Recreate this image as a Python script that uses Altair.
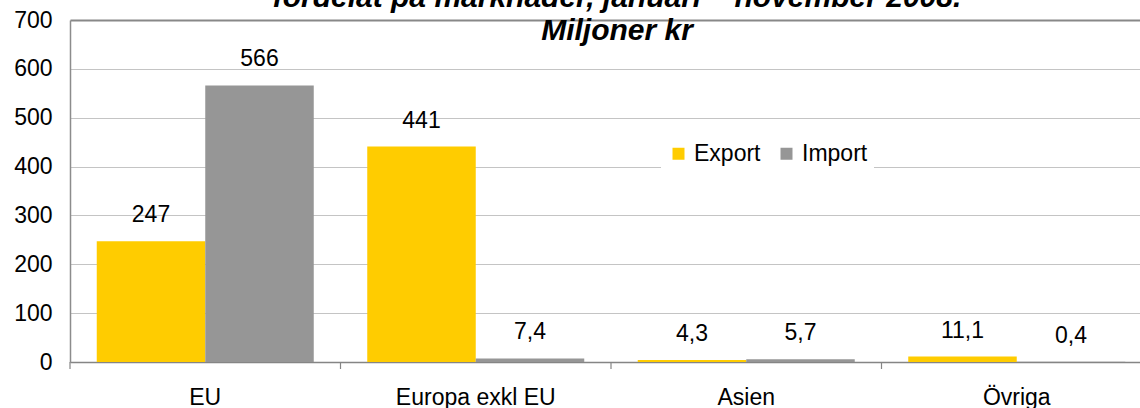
import altair as alt
import pandas as pd

# ---- data ----
categories = ["EU", "Europa exkl EU", "Asien", "Övriga"]
export_vals = [247, 441, 4.3, 11.1]
import_vals = [566, 7.4, 5.7, 0.4]
series = ["Export", "Import"]
colors = ["#FFCC00", "#969696"]
y_ticks = [0, 100, 200, 300, 400, 500, 600, 700]
title_lines = ["fördelat på marknader, januari – november 2008.", "Miljoner kr"]

FONT = "Liberation Sans"

rows = []
for c, e, i in zip(categories, export_vals, import_vals):
    rows.append({"cat": c, "serie": "Export", "val": e, "lab": f"{e:g}".replace(".", ",")})
    rows.append({"cat": c, "serie": "Import", "val": i, "lab": f"{i:g}".replace(".", ",")})
df = pd.DataFrame(rows)
cat_df = pd.DataFrame({"cat": categories})

W, H = 1070, 342
xscale = alt.Scale(domain=categories, paddingInner=0, paddingOuter=0, range=[0, 1082])
offscale = alt.Scale(domain=series, paddingInner=0, paddingOuter=0.2465)
yscale = alt.Scale(domain=[0, 700], nice=False)

x_enc = alt.X("cat:N", scale=xscale, sort=categories,
              axis=alt.Axis(title=None, ticks=False, tickSize=0, labelAngle=0,
                            labelFont=FONT, labelFontSize=23, labelColor="#000000",
                            labelBaseline="alphabetic", labelPadding=42,
                            domainColor="#858585", domainWidth=1.5, grid=False))
y_enc = alt.Y("val:Q", scale=yscale,
              axis=alt.Axis(title=None, values=y_ticks, ticks=False, tickSize=0,
                            labelFont=FONT, labelFontSize=23, labelColor="#000000",
                            labelPadding=18, domainColor="#8C8C8C", domainWidth=1.5,
                            grid=True,
                            gridColor={"expr": "datum.value == 700 ? '#888888' : '#C4C4C4'"},
                            gridWidth={"expr": "datum.value == 700 ? 2 : 1"}))

bars = alt.Chart(df).mark_bar().encode(
    x=x_enc,
    xOffset=alt.XOffset("serie:N", scale=offscale, sort=series),
    y=y_enc,
    color=alt.Color("serie:N", scale=alt.Scale(domain=series, range=colors),
                    legend=alt.Legend(title=None, orient="none", legendX=591, legendY=116,
                                      direction="horizontal", fillColor="#FFFFFF", padding=6,
                                      symbolType="square", symbolSize=144, symbolStrokeWidth=0,
                                      labelFont=FONT, labelFontSize=23, labelColor="#000000",
                                      labelOffset=4, columnPadding=14)),
)

labels = alt.Chart(df).mark_text(font=FONT, fontSize=23, color="#000000",
                                 baseline="alphabetic", dy=-19).encode(
    x=alt.X("cat:N", scale=xscale, sort=categories),
    xOffset=alt.XOffset("serie:N", scale=offscale, sort=series),
    y=alt.Y("val:Q", scale=yscale),
    text="lab:N",
)

ticks = alt.Chart(cat_df).mark_rule(color="#858585", strokeWidth=1.2).encode(
    x=alt.X("cat:N", scale=xscale, sort=categories, bandPosition=0),
    y=alt.value(H),
    y2=alt.value(H + 7),
)

t1 = alt.Chart(pd.DataFrame({"t": [title_lines[0]]})).mark_text(
    font=FONT, fontSize=30, fontWeight="bold", fontStyle="italic", color="#000000",
    baseline="alphabetic", align="center").encode(
    x=alt.value(547), y=alt.value(-13), text="t:N")
t2 = alt.Chart(pd.DataFrame({"t": [title_lines[1]]})).mark_text(
    font=FONT, fontSize=30, fontWeight="bold", fontStyle="italic", color="#000000",
    baseline="alphabetic", align="center").encode(
    x=alt.value(547), y=alt.value(20), text="t:N")

chart = alt.layer(bars, labels, ticks, t1, t2).properties(
    width=W, height=H,
    autosize=alt.AutoSizeParams(type="none"),
    padding={"left": 70, "top": 20, "right": 0, "bottom": 46},
    background="#FFFFFF",
).configure_view(stroke=None)

chart.save("out.html", embed_options={"renderer": "svg", "actions": False})
